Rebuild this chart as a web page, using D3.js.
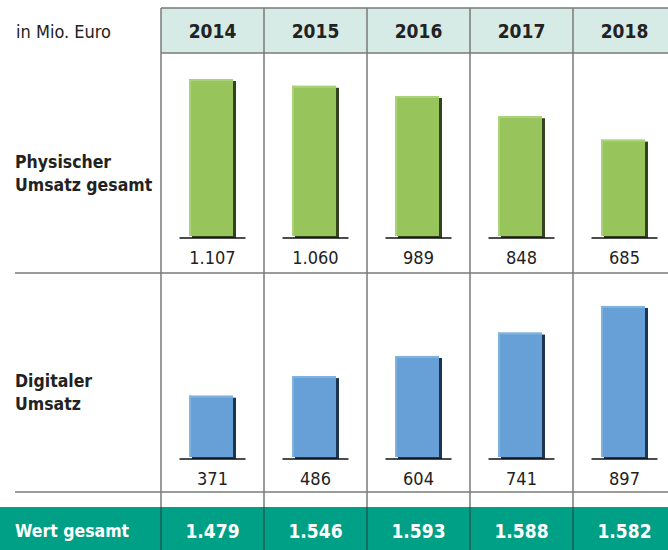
<!DOCTYPE html>
<html>
<head>
<meta charset="utf-8">
<script src="https://cdn.jsdelivr.net/npm/d3@7"></script>
<style>
  body { margin: 0; background: #fff; }
  svg { display: block; font-family: "DejaVu Sans Condensed", "Liberation Sans Narrow", sans-serif; }
</style>
</head>
<body>
<svg width="668" height="550"></svg>
<script>
var years = ["2014", "2015", "2016", "2017", "2018"];
var physisch = [1107, 1060, 989, 848, 685];
var digital = [371, 486, 604, 741, 897];
var gesamt = [1479, 1546, 1593, 1588, 1582];
var rowLabels = [["Physischer", "Umsatz gesamt"], ["Digitaler", "Umsatz"]];

var de = d3.formatLocale({decimal: ",", thousands: ".", grouping: [3], currency: ["", " €"]});
var fmt = de.format(",d");

var svg = d3.select("svg"),
    width = +svg.attr("width"),
    height = +svg.attr("height");

var headTop = 8, headBottom = 53, row1Bottom = 273, row2Bottom = 492, footTop = 507;
var gridColor = "#7a7a7a";

var x = d3.scaleBand().domain(years).range([161, 676]).padding(0);

// each row has its own scale, like in the original
var yPhys = d3.scaleLinear().domain([0, 1200]).range([238, 238 - 1200 * 0.1436]);
var yDig = d3.scaleLinear().domain([0, 1000]).range([459, 459 - 1000 * 0.1706]);

// header
svg.append("rect")
    .attr("x", x.range()[0]).attr("y", headTop)
    .attr("width", x.range()[1] - x.range()[0]).attr("height", headBottom - headTop)
    .attr("fill", "#d6eae6");

svg.append("text")
    .attr("x", 16).attr("y", (headTop + headBottom) / 2 + 1)
    .attr("dy", "0.35em")
    .style("font-size", "18px").attr("fill", "#222")
    .text("in Mio. Euro");

svg.selectAll(".year").data(years).enter().append("text")
    .attr("class", "year")
    .attr("x", function(d) { return x(d) + x.bandwidth() / 2; })
    .attr("y", (headTop + headBottom) / 2 + 1)
    .attr("dy", "0.35em")
    .attr("text-anchor", "middle")
    .style("font-size", "19px").style("font-weight", "bold").attr("fill", "#222")
    .text(function(d) { return d; });

// footer
svg.append("rect")
    .attr("x", 0).attr("y", footTop)
    .attr("width", width).attr("height", height - footTop)
    .attr("fill", "#00a086");

// grid lines
var grid = svg.append("g").attr("stroke", gridColor).attr("stroke-width", 1.5);
grid.append("line").attr("x1", x.range()[0]).attr("x2", width).attr("y1", headTop).attr("y2", headTop);
grid.append("line").attr("x1", x.range()[0]).attr("x2", width).attr("y1", headBottom).attr("y2", headBottom);
grid.append("line").attr("x1", 15).attr("x2", width).attr("y1", row1Bottom).attr("y2", row1Bottom);
grid.append("line").attr("x1", 15).attr("x2", width).attr("y1", row2Bottom).attr("y2", row2Bottom);

grid.selectAll(".vline").data(years).enter().append("line")
    .attr("class", "vline")
    .attr("x1", function(d) { return x(d); }).attr("x2", function(d) { return x(d); })
    .attr("y1", headTop).attr("y2", footTop);

svg.append("g").attr("stroke", "#1d5e53").attr("stroke-width", 1.5)
  .selectAll("line").data(years).enter().append("line")
    .attr("x1", function(d) { return x(d); }).attr("x2", function(d) { return x(d); })
    .attr("y1", footTop).attr("y2", height);

// row labels (yc = vertical centre of the block)
function rowLabel(lines, yc, color) {
  var t = svg.append("text")
      .attr("x", 15).attr("y", yc)
      .style("font-size", "17.5px").style("font-weight", "bold").attr("fill", color);
  lines.forEach(function(l, i) {
    t.append("tspan").attr("x", 15)
      .attr("dy", i === 0 ? (-(lines.length - 1) * 11.5 + 6) + "px" : "23px")
      .text(l);
  });
}
rowLabel(rowLabels[0], 173, "#222");
rowLabel(rowLabels[1], 392, "#222");
rowLabel(["Wert gesamt"], 531, "#fff");

// bars
var barW = 44, shadow = 3;

function drawBars(data, y, cls, fill, light, dark) {
  var g = svg.append("g").attr("class", cls);
  var base = y(0);
  var bar = g.selectAll("g").data(data).enter().append("g")
      .attr("transform", function(d, i) { return "translate(" + (x(years[i]) + x.bandwidth() / 2 - (barW + shadow) / 2) + ",0)"; });

  bar.append("rect")  // shadow
      .attr("x", shadow).attr("y", function(d) { return y(d) + 2; })
      .attr("width", barW).attr("height", function(d) { return base - y(d) - 2; })
      .attr("fill", dark);
  bar.append("rect")
      .attr("x", 0).attr("y", function(d) { return y(d); })
      .attr("width", barW).attr("height", function(d) { return base - y(d) - 2; })
      .attr("fill", fill);
  bar.append("rect")  // light top edge
      .attr("x", 0).attr("y", function(d) { return y(d); })
      .attr("width", barW).attr("height", 2)
      .attr("fill", light);
  bar.append("rect")  // light left edge
      .attr("x", 0).attr("y", function(d) { return y(d); })
      .attr("width", 2).attr("height", function(d) { return base - y(d) - 2; })
      .attr("fill", light);

  g.selectAll(".base").data(data).enter().append("line")
      .attr("x1", function(d, i) { return x(years[i]) + x.bandwidth() / 2 - 33; })
      .attr("x2", function(d, i) { return x(years[i]) + x.bandwidth() / 2 + 33; })
      .attr("y1", base).attr("y2", base)
      .attr("stroke", "#111").attr("stroke-width", 1.5);

  g.selectAll(".val").data(data).enter().append("text")
      .attr("x", function(d, i) { return x(years[i]) + x.bandwidth() / 2; })
      .attr("y", base + 20)
      .attr("dy", "0.35em")
      .attr("text-anchor", "middle")
      .style("font-size", "18px").attr("fill", "#222")
      .text(function(d) { return fmt(d); });
}

drawBars(physisch, yPhys, "phys", "#97c45b", "#aad27a", "#33431f");
drawBars(digital, yDig, "dig", "#66a0d6", "#80b2e0", "#1f3450");

// totals
svg.selectAll(".total").data(gesamt).enter().append("text")
    .attr("class", "total")
    .attr("x", function(d, i) { return x(years[i]) + x.bandwidth() / 2; })
    .attr("y", 531)
    .attr("dy", "0.35em")
    .attr("text-anchor", "middle")
    .style("font-size", "19px").style("font-weight", "bold").attr("fill", "#fff")
    .text(function(d) { return fmt(d); });
</script>
</body>
</html>
